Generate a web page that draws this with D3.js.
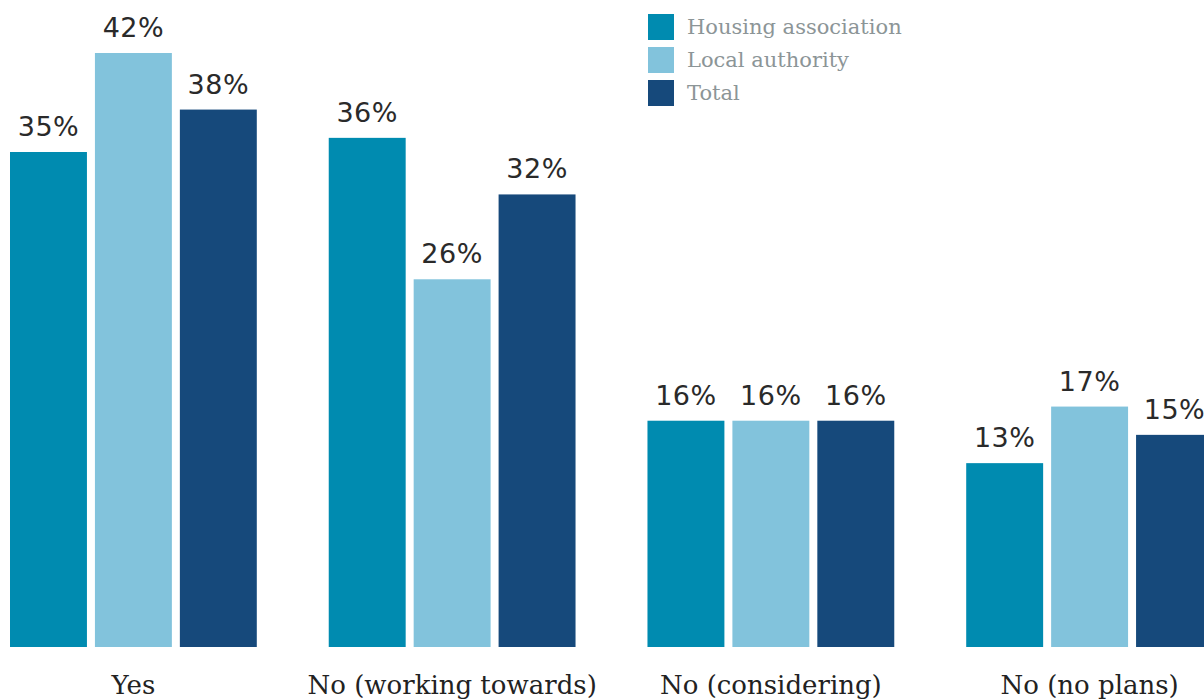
<!DOCTYPE html>
<html>
<head>
<meta charset="utf-8">
<script src="https://cdn.jsdelivr.net/npm/d3@7"></script>
<style>
  html, body { margin: 0; padding: 0; background: #ffffff; overflow: hidden; }
  svg { display: block; }
</style>
</head>
<body>
<svg id="chart" width="1204" height="699"></svg>
<script>
// Survey answers by landlord type (percent of respondents)
const categories = ["Yes", "No (working towards)", "No (considering)", "No (no plans)"];
const seriesNames = ["Housing association", "Local authority", "Total"];
const housingAssociation = [35, 36, 16, 13];
const localAuthority = [42, 26, 16, 17];
const total = [38, 32, 16, 15];
const seriesColors = ["#008bb0", "#82c3dc", "#16497b"];

const seriesValues = [housingAssociation, localAuthority, total];
const rows = categories.map((c, i) => ({
  category: c,
  values: seriesNames.map((s, j) => ({ series: s, value: seriesValues[j][i] }))
}));

const svg = d3.select("#chart");

const baseline = 647;
const y = d3.scaleLinear().domain([0, 42]).range([baseline, 53]);

const x0 = d3.scaleBand()
  .domain(categories)
  .range([10, 1213])
  .paddingInner(72 / 319)
  .paddingOuter(0)
  .align(0);

const x1 = d3.scaleBand()
  .domain(seriesNames)
  .range([0, x0.bandwidth()])
  .paddingInner(8 / 85)
  .paddingOuter(0);

const color = d3.scaleOrdinal().domain(seriesNames).range(seriesColors);

const groups = svg.append("g").selectAll("g")
  .data(rows)
  .join("g")
  .attr("transform", d => `translate(${x0(d.category)},0)`);

groups.selectAll("rect")
  .data(d => d.values)
  .join("rect")
  .attr("x", d => x1(d.series))
  .attr("y", d => y(d.value))
  .attr("width", x1.bandwidth())
  .attr("height", d => y(0) - y(d.value))
  .attr("fill", d => color(d.series));

groups.selectAll("text.value")
  .data(d => d.values)
  .join("text")
  .attr("class", "value")
  .attr("x", d => x1(d.series) + x1.bandwidth() / 2)
  .attr("y", d => y(d.value) - 16)
  .attr("text-anchor", "middle")
  .attr("font-family", "'DejaVu Sans', sans-serif")
  .attr("font-size", 27)
  .attr("letter-spacing", 0.5)
  .attr("fill", "#2a2a2a")
  .text(d => d.value + "%");

// Category axis (labels only, no line or ticks)
const xAxis = d3.axisBottom(x0).tickSize(0).tickPadding(0);
const axisG = svg.append("g")
  .attr("transform", `translate(0,${baseline})`)
  .call(xAxis);
axisG.select(".domain").remove();
axisG.selectAll("text")
  .attr("dy", null)
  .attr("y", 47)
  .attr("font-family", "'DejaVu Serif', serif")
  .attr("font-size", 26)
  .attr("fill", "#222222");

// Legend
const legend = svg.append("g").attr("transform", "translate(648,14)");
const items = legend.selectAll("g")
  .data(seriesNames)
  .join("g")
  .attr("transform", (d, i) => `translate(0,${i * 33})`);
items.append("rect")
  .attr("width", 26)
  .attr("height", 26)
  .attr("fill", d => color(d));
items.append("text")
  .attr("x", 39)
  .attr("y", 20)
  .attr("font-family", "'DejaVu Serif', serif")
  .attr("font-size", 21)
  .attr("fill", "#8c9597")
  .text(d => d);
</script>
</body>
</html>
